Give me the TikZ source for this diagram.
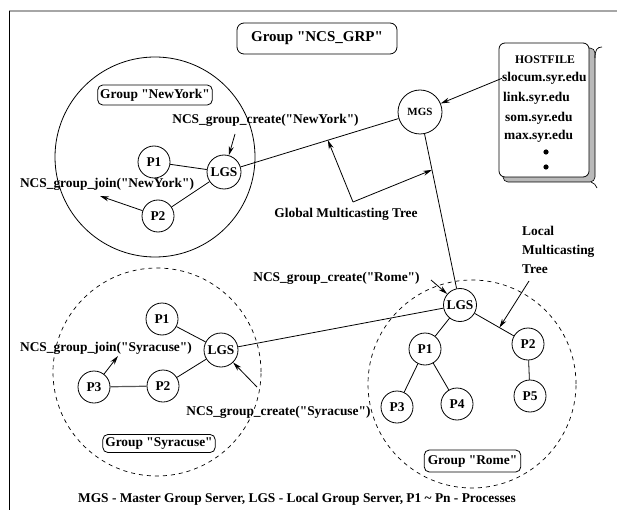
\documentclass[tikz,border=0pt]{standalone}
\usepackage{fontspec}
\setmainfont{Liberation Serif}[Ligatures=TeXOff]
\usetikzlibrary{calc,arrows.meta}
\newcommand\lblfont{\fontsize{13.4}{19}\selectfont\bfseries}
\newcommand\dq{\char34{}}
\begin{document}
\begin{tikzpicture}[x=1pt,y=-1pt,
  proc/.style={draw, circle, fill=white, minimum size=32pt, inner sep=0pt, font=\lblfont, line width=0.8pt},
  lgs/.style={proc, minimum size=34pt},
  grp/.style={draw, rounded corners=5pt, inner xsep=2.5pt, inner ysep=0pt, minimum height=20pt, font=\lblfont, line width=0.8pt},
  lbl/.style={anchor=base, inner sep=0pt, font=\lblfont},
  hostline/.style={anchor=base west, inner sep=0pt, font=\lblfont},
  conn/.style={line width=0.8pt},
  arr/.style={conn, -{Stealth[length=9pt,width=5pt]}},
  region/.style={draw, circle, inner sep=0pt, line width=0.8pt},
  dregion/.style={region, dash pattern=on 4pt off 4pt, line width=0.7pt}
]
\useasboundingbox (0,0) rectangle (617,510);
% frame
\draw[gray!70, line width=1.5pt] (9,11) -- (617,11);
\draw[line width=0.8pt] (9,11) -- (9,510);

% title
\node[grp, rounded corners=7pt, minimum width=160pt, minimum height=31pt, font=\fontsize{15}{18}\selectfont\bfseries] (title) at (317,38.5) {Group \dq NCS\_GRP\dq};

% regions
\node[region, minimum size=200pt] (nyRegion) at (155,157) {};
\node[dregion, minimum size=208pt] (syrRegion) at (157,372) {};
\node[dregion, minimum size=208pt] (romeRegion) at (472,384) {};

% group labels
\node[grp] (nyGrp) at (155,95) {Group \dq NewYork\dq};
\node[grp, minimum height=18pt] (syrGrp) at (159,443.5) {Group \dq Syracuse\dq};
\node[grp, minimum height=22pt, inner xsep=3.5pt] (romeGrp) at (472.5,461) {Group \dq Rome\dq};

% hostfile
\draw[fill=gray!55, line width=0.6pt, rounded corners=5pt] (503,48) rectangle (595,182);
\node[draw, fill=white, rounded corners=6pt, minimum width=90pt, minimum height=134pt, line width=0.8pt] (host) at (544,110) {};
\draw[line width=0.7pt] (595,58) .. controls (595,50) and (597,47) .. (602,47);
\draw[line width=0.7pt] (591,182) .. controls (594,183) and (596,185) .. (597,188);
\node[lbl, font=\fontsize{11.7}{14}\selectfont\bfseries] (hostTitle) at (545,64) {HOSTFILE};
\node[hostline] (slocum) at (502,81.5) {slocum.syr.edu};
\node[hostline] (link) at (503,101.5) {link.syr.edu};
\node[hostline] (som) at (505,121.5) {som.syr.edu};
\node[hostline] (max) at (504,139.5) {max.syr.edu};
\fill (546,152) circle (2.6pt);
\fill (546,167) circle (2.6pt);

% servers and processes
\node[proc, minimum size=44pt, font=\fontsize{11}{13}\selectfont\bfseries] (mgs) at (420,112) {MGS};
\node[proc] (nyP1) at (154,162) {P1};
\node[lgs] (nyLGS) at (224,172) {LGS};
\node[proc] (nyP2) at (158,216) {P2};

\node[lgs, minimum size=33pt] (romeLGS) at (460,305) {LGS};
\node[proc] (romeP1) at (425,349) {P1};
\node[proc] (romeP2) at (528,344) {P2};
\node[proc] (romeP3) at (397,407) {P3};
\node[proc] (romeP4) at (457,404) {P4};
\node[proc] (romeP5) at (530,396) {P5};

\node[proc] (syrP1) at (162,319) {P1};
\node[lgs] (syrLGS) at (221,350) {LGS};
\node[proc] (syrP3) at (94,387) {P3};
\node[proc] (syrP2) at (163,386) {P2};

% connectors
\draw[conn] (nyP1) -- (nyLGS);
\draw[conn] (nyP2) -- (nyLGS);
\draw[conn] (nyLGS) -- (mgs);
\draw[conn] (mgs) -- (romeLGS);
\draw[conn] (romeLGS) -- (syrLGS);
\draw[conn] (romeLGS) -- (romeP1);
\draw[conn] (romeLGS) -- (romeP2);
\draw[conn] (romeP1) -- (romeP3);
\draw[conn] (romeP1) -- (romeP4);
\draw[conn] (romeP2) -- (romeP5);
\draw[conn] (syrP1) -- (syrLGS);
\draw[conn] (syrP2) -- (syrLGS);
\draw[gray!70!black, line width=1.2pt] (syrP3) -- (syrP2);

% labels
\node[lbl] (nyCreate) at (265.5,123.5) {NCS\_group\_create(\dq NewYork\dq)};
\node[lbl] (nyJoin) at (107,187.5) {NCS\_group\_join(\dq NewYork\dq)};
\node[lbl] (global) at (346,217.5) {Global Multicasting Tree};
\node[anchor=base west, inner sep=0pt, font=\lblfont, align=left] (local) at (522,273.5) {Local\\Multicasting\\Tree};
\node[lbl] (romeCreate) at (336.5,281.5) {NCS\_group\_create(\dq Rome\dq)};
\node[lbl] (syrJoin) at (106,351.5) {NCS\_group\_join(\dq Syracuse\dq)};
\node[lbl] (syrCreate) at (278.5,415.5) {NCS\_group\_create(\dq Syracuse\dq)};
\node[lbl] (caption) at (297,502.5) {MGS - Master Group Server, LGS - Local Group Server, P1 \textasciitilde{} Pn - Processes};

% arrows
\coordinate (nyCreateTail) at (235,134);
\draw[arr] (nyCreateTail) -- (nyLGS);
\coordinate (nyJoinTip) at (100,196);
\draw[arr] (nyP2) -- (nyJoinTip);
\draw[arr] (slocum.west) -- (mgs);
\coordinate (g1) at ($(nyLGS)!0.53!(mgs)$);
\coordinate (g2) at (353,202);
\coordinate (g3) at ($(mgs)!0.30!(romeLGS)$);
\draw[arr] (g2) -- (g1);
\draw[arr] (g2) -- (g3);
\coordinate (romeCreateTail) at (431,280);
\draw[arr] (romeCreateTail) -- (romeLGS);
\coordinate (localTail) at (529,281);
\coordinate (localTip) at ($(romeLGS)!0.58!(romeP2)$);
\draw[arr] (localTail) -- (localTip);
\coordinate (syrJoinTip) at (118,356);
\draw[arr] (syrP3) -- (syrJoinTip);
\coordinate (syrCreateTail) at (257,387);
\draw[arr] (syrCreateTail) -- (syrLGS);
\end{tikzpicture}
\end{document}
